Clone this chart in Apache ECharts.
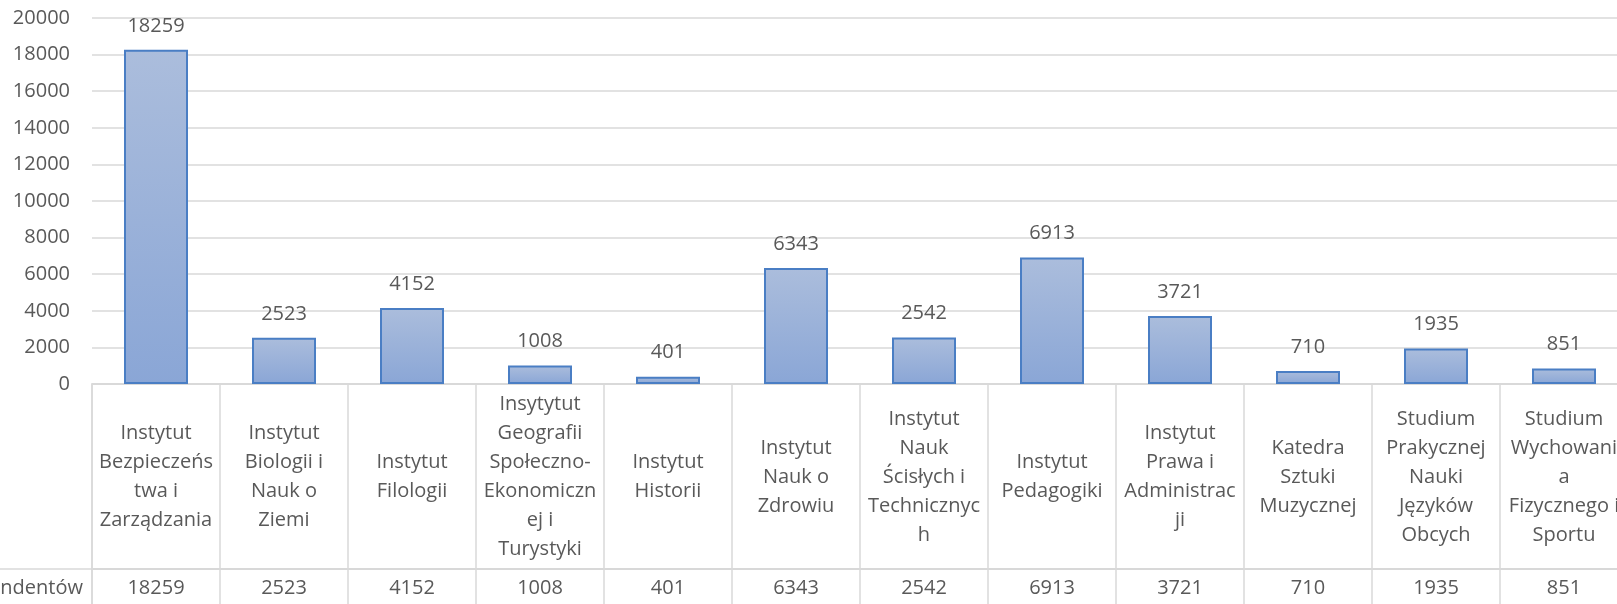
<!DOCTYPE html>
<html>
<head>
<meta charset="utf-8">
<script src="https://cdn.jsdelivr.net/npm/echarts@6/dist/echarts.min.js"></script>
<style>
    html, body { margin: 0; padding: 0; background: #fff; }
    #chart { width: 1617px; height: 604px; }
</style>
</head>
<body>
<div id="chart"></div>
<script>
    // kategorie (z łamaniem linii jak w tabeli danych)
    var categories = [
        'Instytut\nBezpieczeńs\ntwa i\nZarządzania',
        'Instytut\nBiologii i\nNauk o\nZiemi',
        'Instytut\nFilologii',
        'Insytytut\nGeografii\nSpołeczno-\nEkonomiczn\nej i\nTurystyki',
        'Instytut\nHistorii',
        'Instytut\nNauk o\nZdrowiu',
        'Instytut\nNauk\nŚcisłych i\nTechnicznyc\nh',
        'Instytut\nPedagogiki',
        'Instytut\nPrawa i\nAdministrac\nji',
        'Katedra\nSztuki\nMuzycznej',
        'Studium\nPrakycznej\nNauki\nJęzyków\nObcych',
        'Studium\nWychowani\na\nFizycznego i\nSportu'
    ];
    var respondents = [18259, 2523, 4152, 1008, 401, 6343, 2542, 6913, 3721, 710, 1935, 851];
    var seriesName = 'Liczba respondentów';
    var yTicks = { min: 0, max: 20000, interval: 2000 };

    var textColor = '#595959';
    var lineColor = '#d9d9d9';
    var font = 'Open Sans';

    var myChart = echarts.init(document.getElementById('chart'));
    var option = {
        animation: false,
        textStyle: { fontFamily: font },
        grid: [
            // wykres
            { left: 92, width: 1536, top: 18, height: 366, outerBoundsMode: 'none' },
            // wiersz z nazwami
            { left: 92, width: 1536, top: 384, height: 185, outerBoundsMode: 'none', show: true, borderColor: lineColor, borderWidth: 1.5 },
            // wiersz z wartościami
            { left: 92, width: 1536, top: 569, height: 38, outerBoundsMode: 'none' }
        ],
        xAxis: [{
            gridIndex: 0,
            type: 'category',
            data: categories,
            axisLine: { lineStyle: { color: lineColor, width: 1.5 } },
            axisTick: { show: false },
            axisLabel: {
                interval: 0,
                margin: 93,
                verticalAlign: 'middle',
                color: textColor,
                fontSize: 20,
                lineHeight: 29,
                fontFamily: font
            }
        }, {
            gridIndex: 1,
            type: 'category',
            data: categories,
            axisLine: { lineStyle: { color: lineColor, width: 1.5 } },
            axisTick: { show: false },
            axisLabel: { show: false },
            splitLine: { show: true, interval: 0, lineStyle: { color: lineColor, width: 1.5 } }
        }, {
            gridIndex: 2,
            type: 'category',
            position: 'top',
            data: categories,
            axisLine: { lineStyle: { color: lineColor, width: 1.5 } },
            axisTick: { show: false },
            splitLine: { show: true, interval: 0, lineStyle: { color: lineColor, width: 1.5 } },
            axisLabel: {
                interval: 0,
                inside: true,
                margin: 19,
                verticalAlign: 'middle',
                color: textColor,
                fontSize: 20,
                fontFamily: font,
                formatter: function (v, i) {
                    return String(respondents[i]);
                }
            }
        }],
        yAxis: [{
            gridIndex: 0,
            type: 'value',
            min: yTicks.min,
            max: yTicks.max,
            interval: yTicks.interval,
            axisLine: { show: false },
            axisTick: { show: false },
            axisLabel: {
                margin: 22, color: textColor, fontSize: 20, fontFamily: font,
                formatter: function (v) { return String(v); }
            },
            splitLine: { lineStyle: { color: lineColor, width: 1.5 } }
        }, {
            gridIndex: 1,
            type: 'value',
            show: false
        }, {
            gridIndex: 2,
            type: 'category',
            data: [seriesName],
            axisLine: { show: true, lineStyle: { color: lineColor, width: 1.5 } },
            axisTick: { show: true, length: 92, lineStyle: { color: lineColor, width: 1.5 } },
            axisLabel: { margin: 9, color: textColor, fontSize: 20, fontFamily: font }
        }],
        series: [{
            name: seriesName,
            type: 'bar',
            xAxisIndex: 0,
            yAxisIndex: 0,
            barWidth: '50%',
            data: respondents,
            itemStyle: {
                color: new echarts.graphic.LinearGradient(0, 0, 0, 1, [
                    { offset: 0, color: '#abbddc' },
                    { offset: 1, color: '#8aa6d6' }
                ]),
                borderColor: '#4a7ec4',
                borderWidth: 2
            },
            label: {
                show: true,
                position: 'top',
                distance: 14,
                color: textColor,
                fontSize: 20,
                fontFamily: font
            }
        }]
    };
    myChart.setOption(option);
</script>
</body>
</html>
